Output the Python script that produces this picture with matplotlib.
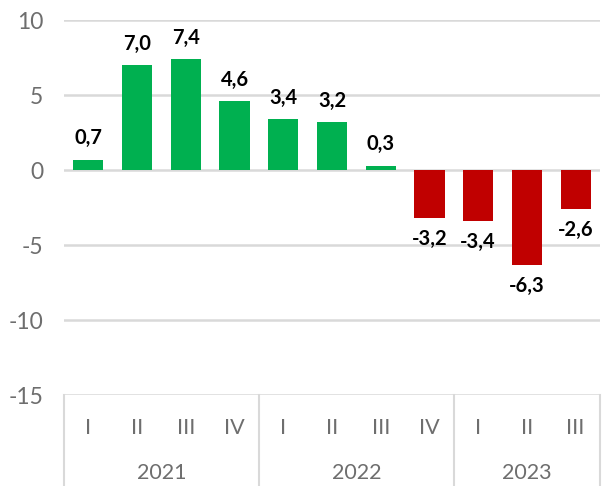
import matplotlib
matplotlib.use("Agg")
import matplotlib.pyplot as plt
import matplotlib.transforms as mtransforms

quarters = ["I", "II", "III", "IV", "I", "II", "III", "IV", "I", "II", "III"]
years = ["2021", "2022", "2023"]
year_counts = [4, 4, 3]
values = [0.7, 7.0, 7.4, 4.6, 3.4, 3.2, 0.3, -3.2, -3.4, -6.3, -2.6]
labels = ["0,7", "7,0", "7,4", "4,6", "3,4", "3,2", "0,3", "-3,2", "-3,4", "-6,3", "-2,6"]
yticks = [10, 5, 0, -5, -10, -15]

GREEN = "#00B050"
RED = "#C00000"
GRID = "#D9D9D9"
TXT = "#6E6E6E"

plt.rcParams['font.family'] = ['Lato', 'DejaVu Sans']

fig = plt.figure(figsize=(6.03, 4.86), dpi=100)
W, H = 603, 486
left, right, top, bottom = 64, 600, 20, 395
ax = fig.add_axes([left / W, 1 - bottom / H, (right - left) / W, (bottom - top) / H])

x = list(range(len(values)))
colors = [GREEN if v >= 0 else RED for v in values]
ax.bar(x, values, width=0.62, color=colors, zorder=3)

ax.set_xlim(-0.5, len(values) - 0.5)
ax.set_ylim(-15, 10)
ax.set_yticks(yticks)
ax.set_yticklabels([str(t) for t in yticks], fontsize=16.5, color=TXT, fontweight='normal')
for t in yticks:
    ax.axhline(t, color=GRID, lw=1.8, zorder=1, xmin=0, xmax=1)
ax.tick_params(axis='y', length=0, pad=15)
ax.tick_params(axis='x', length=0)
ax.set_xticks([])
for s in ax.spines.values():
    s.set_visible(False)

for xi, v, lab in zip(x, values, labels):
    if v >= 0:
        ax.annotate(lab, (xi, v), xytext=(0, 8), textcoords='offset points',
                    ha='center', va='bottom', fontsize=14.5, fontweight='bold', color='black')
    else:
        ax.annotate(lab, (xi, v), xytext=(0, -8), textcoords='offset points',
                    ha='center', va='top', fontsize=14.5, fontweight='bold', color='black')

trans = mtransforms.blended_transform_factory(ax.transData, ax.transAxes)
ybot = -(H - bottom) / (bottom - top)
# quarter labels
for xi, q in zip(x, quarters):
    ax.text(xi, -33 / (bottom - top), q, transform=trans, ha='center', va='center',
            fontsize=15.5, color=TXT, fontweight='normal')
# year separators and labels
start = 0
bounds = [-0.5]
for yr, c in zip(years, year_counts):
    center = start + (c - 1) / 2
    ax.text(center, -78 / (bottom - top), yr, transform=trans, ha='center', va='center',
            fontsize=15.5, color=TXT, fontweight='normal')
    start += c
    bounds.append(start - 0.5)
for b in bounds:
    ax.plot([b, b], [0, ybot], transform=trans, color=GRID, lw=1.5, clip_on=False)

fig.savefig("out.png", dpi=100)
